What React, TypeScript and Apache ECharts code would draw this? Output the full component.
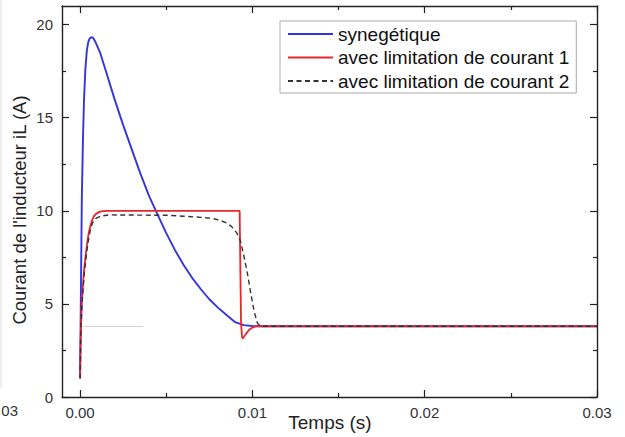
import React, { useEffect, useRef } from "react";
import * as echarts from "echarts";

const seriesNames = ["synegétique", "avec limitation de courant 1", "avec limitation de courant 2"];

const tSyn = [0, 0.00003, 0.0001, 0.00017, 0.00023, 0.0003, 0.00039, 0.00047, 0.00055, 0.00065, 0.00075, 0.0009, 0.00116, 0.0015, 0.002, 0.0025, 0.003, 0.0035, 0.004, 0.0045, 0.005, 0.0055, 0.006, 0.0065, 0.007, 0.0075, 0.008, 0.0085, 0.009, 0.0095, 0.01, 0.0105, 0.03];
const vSyn = [1.0, 4.0, 10.6, 14.0, 16.0, 17.5, 18.6, 19.05, 19.25, 19.32, 19.3, 19.05, 18.5, 17.5, 16.0, 14.6, 13.3, 12.0, 10.8, 9.8, 8.8, 7.9, 7.1, 6.4, 5.8, 5.25, 4.8, 4.4, 4.02, 3.86, 3.81, 3.8, 3.8];

const tLim1 = [0, 0.00003, 0.00006, 0.0001, 0.00016, 0.00023, 0.00031, 0.0004, 0.0005, 0.0006, 0.0007, 0.0008, 0.0009, 0.00109, 0.0013, 0.0016, 0.00926, 0.00934, 0.0094, 0.00946, 0.0096, 0.0098, 0.01, 0.0102, 0.0104, 0.03];
const vLim1 = [1.0, 3.0, 4.0, 5.0, 5.9, 6.8, 7.5, 8.2, 8.8, 9.2, 9.5, 9.7, 9.82, 9.93, 9.98, 10.0, 10.0, 4.0, 3.2, 3.15, 3.35, 3.6, 3.73, 3.79, 3.8, 3.8];

const tLim2 = [0, 0.00003, 0.00006, 0.0001, 0.00016, 0.00023, 0.00031, 0.0004, 0.0005, 0.0006, 0.0007, 0.0008, 0.0009, 0.0012, 0.0017, 0.005, 0.006, 0.007, 0.0076, 0.0081, 0.0085, 0.0088, 0.0091, 0.0093, 0.0095, 0.0097, 0.0099, 0.0101, 0.0103, 0.0105, 0.03];
const vLim2 = [1.0, 2.9, 3.8, 4.8, 5.6, 6.5, 7.2, 7.9, 8.5, 9.0, 9.3, 9.48, 9.58, 9.72, 9.78, 9.76, 9.71, 9.65, 9.6, 9.5, 9.35, 9.15, 8.8, 8.4, 7.6, 6.7, 5.6, 4.6, 3.95, 3.8, 3.8];

const xTickMin = 0;
const xTickMax = 0.03;
const xTickStep = 0.01;
const yTickMin = 0;
const yTickMax = 20;
const yTickStep = 5;

const pairs = (t: number[], v: number[]) => t.map((x, i) => [x, v[i]]);

const FONT = "Liberation Sans, Arial, sans-serif";
const AX = "#222";

export default function App() {
  const ref = useRef<HTMLDivElement>(null);
  useEffect(() => {
    if (!ref.current) return;
    const chart = echarts.init(ref.current, undefined, { renderer: "svg" });
    const X_MIN = -0.00105;
    const Y_MAX = 21;
    const plotTop = 6;
    const plotBottom = 40;
    const plotLeft = 62;
    const plotRight = 28;
    const plotW = 625 - plotLeft - plotRight;
    const plotH = 437 - plotTop - plotBottom;
    const zeroX = plotLeft + ((0 - X_MIN) / (xTickMax - X_MIN)) * plotW;
    const y20 = plotTop + ((Y_MAX - yTickMax) / Y_MAX) * plotH;

    const lineAx = { show: true, onZero: false, lineStyle: { color: AX, width: 1.4 } };
    const noLine = { show: false, onZero: false };
    const tick = { show: true, inside: true, length: 7, lineStyle: { color: AX, width: 1.2 } };
    const minor = { show: true, splitNumber: 2, length: 4, lineStyle: { color: AX, width: 1.2 } };
    const hidden = { show: false };

    chart.setOption({
      animation: false,
      backgroundColor: "#fff",
      grid: [
        { left: plotLeft, right: plotRight, top: plotTop, bottom: plotBottom },
        { left: zeroX, right: plotRight, top: plotTop, bottom: plotBottom },
        { left: plotLeft, right: plotRight, top: y20, bottom: plotBottom },
      ],
      legend: {
        orient: "vertical",
        left: 280,
        top: 21,
        padding: [3, 7, 2, 7],
        itemWidth: 45,
        itemHeight: 14,
        itemGap: 3.5,
        borderColor: "#aaa",
        borderWidth: 1,
        backgroundColor: "#fff",
        itemStyle: { opacity: 0 },
        textStyle: { fontFamily: FONT, fontSize: 19, color: "#111", lineHeight: 20 },
        data: seriesNames,
      },
      xAxis: [
        { gridIndex: 0, type: "value", min: X_MIN, max: xTickMax, position: "bottom", axisLine: lineAx, axisTick: hidden, axisLabel: hidden, splitLine: hidden },
        { gridIndex: 0, type: "value", min: X_MIN, max: xTickMax, position: "top", axisLine: lineAx, axisTick: hidden, axisLabel: hidden, splitLine: hidden },
        {
          gridIndex: 1, type: "value", min: xTickMin, max: xTickMax, interval: xTickStep, position: "bottom",
          axisLine: noLine, axisTick: tick, minorTick: minor, splitLine: hidden,
          axisLabel: { show: true, margin: 8, fontFamily: FONT, fontSize: 15, color: "#333", formatter: (v: number) => v.toFixed(2) },
        },
        {
          gridIndex: 1, type: "value", min: xTickMin, max: xTickMax, interval: xTickStep, position: "top",
          axisLine: noLine, axisTick: tick, minorTick: minor, splitLine: hidden, axisLabel: hidden,
        },
        { gridIndex: 2, type: "value", min: 0, max: 1, show: false },
      ],
      yAxis: [
        { gridIndex: 0, type: "value", min: 0, max: Y_MAX, position: "left", axisLine: lineAx, axisTick: hidden, axisLabel: hidden, splitLine: hidden },
        { gridIndex: 0, type: "value", min: 0, max: Y_MAX, position: "right", axisLine: lineAx, axisTick: hidden, axisLabel: hidden, splitLine: hidden },
        { gridIndex: 1, type: "value", min: 0, max: 1, show: false },
        {
          gridIndex: 2, type: "value", min: yTickMin, max: yTickMax, interval: yTickStep, position: "left",
          axisLine: noLine, axisTick: tick, minorTick: minor, splitLine: hidden,
          axisLabel: { show: true, margin: 9, fontFamily: FONT, fontSize: 15, color: "#333" },
        },
        {
          gridIndex: 2, type: "value", min: yTickMin, max: yTickMax, interval: yTickStep, position: "right",
          axisLine: noLine, axisTick: tick, minorTick: minor, splitLine: hidden, axisLabel: hidden,
        },
      ],
      series: [
        {
          name: seriesNames[0], type: "line", symbol: "none", xAxisIndex: 0, yAxisIndex: 0, data: pairs(tSyn, vSyn),
          lineStyle: { color: "#3434dc", width: 1.9 }, itemStyle: { color: "#3434dc" }, z: 2,
        },
        {
          name: seriesNames[1], type: "line", symbol: "none", xAxisIndex: 0, yAxisIndex: 0, data: pairs(tLim1, vLim1),
          lineStyle: { color: "#e8262c", width: 1.8 }, itemStyle: { color: "#e8262c" }, z: 3,
        },
        {
          name: seriesNames[2], type: "line", symbol: "none", xAxisIndex: 0, yAxisIndex: 0, data: pairs(tLim2, vLim2),
          lineStyle: { color: "#333", width: 1.4, type: [5, 3.5] }, itemStyle: { color: "#333" }, z: 4,
        },
      ],
      graphic: [
        {
          type: "text", x: 330, y: 422,
          style: { text: "Temps (s)", fontFamily: FONT, fontSize: 19, fill: "#222", align: "center", verticalAlign: "middle" },
        },
        {
          type: "text", x: 19.5, y: 210, rotation: Math.PI / 2,
          style: { text: "Courant de l'inducteur iL (A)", fontFamily: FONT, fontSize: 18.5, fill: "#222", align: "center", verticalAlign: "middle" },
        },
        {
          type: "text", x: 18, y: 410,
          style: { text: "03", fontFamily: FONT, fontSize: 15, fill: "#333", align: "right", verticalAlign: "middle" },
        },
        {
          type: "line", shape: { x1: 1, y1: 0, x2: 1, y2: 388 },
          style: { stroke: "#ddd", lineWidth: 1 },
        },
        {
          type: "line", shape: { x1: 83, y1: 326.5, x2: 143, y2: 326.5 },
          style: { stroke: "#d4d4d4", lineWidth: 1 }, z: 1,
        },
      ],
    });
    return () => chart.dispose();
  }, []);
  return (
    <div
      ref={ref}
      style={{ position: "fixed", left: 0, top: 0, width: 625, height: 437, background: "#fff" }}
    />
  );
}
